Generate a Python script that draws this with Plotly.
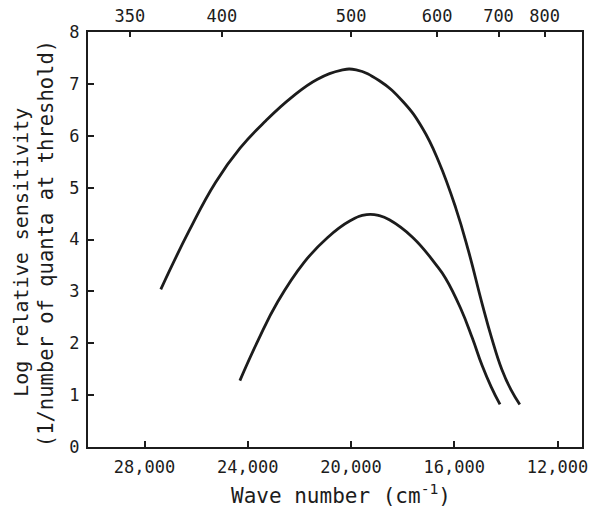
import plotly.graph_objects as go

# Upper sensitivity curve: wave number (cm^-1) vs log relative sensitivity
upper_wavenumber = [27370, 26290, 25250, 24300, 23300, 22300, 21300, 20400, 19800,
                    18900, 17990, 17225, 16600, 15950, 15450, 14930, 14550, 14160,
                    13800, 13462]
upper_logsens = [3.04, 4.15, 5.10, 5.76, 6.29, 6.74, 7.09, 7.26, 7.27,
                 7.06, 6.66, 6.14, 5.50, 4.62, 3.78, 2.78, 2.10, 1.50,
                 1.10, 0.82]

# Lower sensitivity curve
lower_wavenumber = [24306, 23606, 22840, 21818, 20926, 20034, 19395, 18900, 18515,
                    17608, 16716, 16333, 15759, 15300, 14928, 14570, 14228]
lower_logsens = [1.28, 2.05, 2.80, 3.56, 4.03, 4.36, 4.48, 4.46, 4.38,
                 4.04, 3.52, 3.25, 2.68, 2.10, 1.58, 1.16, 0.82]

# Axis ticks
wavenumber_ticks = [28000, 24000, 20000, 16000, 12000]
wavenumber_labels = ["28,000", "24,000", "20,000", "16,000", "12,000"]
wavelength_nm = [350, 400, 500, 600, 700, 800]
y_ticks = [0, 1, 2, 3, 4, 5, 6, 7, 8]

x_range = [30190, 11051]
ink = "#1c1c1c"
font_family = "DejaVu Sans Mono"

fig = go.Figure()
for xs, ys in [(upper_wavenumber, upper_logsens), (lower_wavenumber, lower_logsens)]:
    fig.add_trace(go.Scatter(
        x=xs, y=ys, mode="lines",
        line=dict(color=ink, width=2.8, shape="spline", smoothing=1.3),
        showlegend=False, hoverinfo="skip",
    ))

# invisible trace to activate the wavelength axis on top
fig.add_trace(go.Scatter(x=[x_range[0]], y=[0], xaxis="x2", mode="markers",
                         marker=dict(opacity=0), showlegend=False, hoverinfo="skip"))

axis_common = dict(
    showgrid=False, zeroline=False, showline=True, linecolor=ink, linewidth=2.2,
    ticks="inside", tickcolor=ink, tickwidth=1.8,
    tickfont=dict(family=font_family, size=17, color=ink),
)

fig.update_layout(
    width=594, height=507,
    margin=dict(l=88, r=6, t=31, b=60),
    paper_bgcolor="white", plot_bgcolor="white",
    xaxis=dict(
        range=x_range, tickvals=wavenumber_ticks, ticktext=wavenumber_labels,
        ticklen=6, mirror=True, ticklabelstandoff=3, **axis_common,
    ),
    xaxis2=dict(
        range=x_range, overlaying="x", side="top", anchor="y",
        tickvals=[1e7 / nm for nm in wavelength_nm],
        ticktext=[str(nm) for nm in wavelength_nm],
        ticklen=5, ticklabelstandoff=1, **axis_common,
    ),
    yaxis=dict(
        range=[0, 8], tickvals=y_ticks, ticklen=6, mirror=True,
        ticklabelstandoff=3, **axis_common,
    ),
    annotations=[
        dict(text="Wave number (cm<sup>-1</sup>)", xref="paper", yref="paper",
             x=0.513, y=-0.113, xanchor="center", yanchor="middle", showarrow=False,
             font=dict(family=font_family, size=21, color=ink)),
        dict(text="Log relative sensitivity", xref="paper", yref="paper",
             x=-0.136, y=0.47, textangle=-90, xanchor="center", yanchor="middle",
             showarrow=False, font=dict(family=font_family, size=20, color=ink)),
        dict(text="(1/number of quanta at threshold)", xref="paper", yref="paper",
             x=-0.086, y=0.49, textangle=-90, xanchor="center", yanchor="middle",
             showarrow=False, font=dict(family=font_family, size=20.5, color=ink)),
    ],
)

fig.write_html("out.html")
